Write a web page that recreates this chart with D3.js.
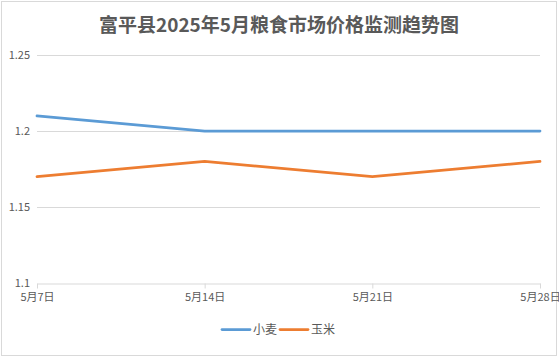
<!DOCTYPE html>
<html><head><meta charset="utf-8">
<script src="https://cdn.jsdelivr.net/npm/d3@7/dist/d3.min.js"></script>
<style>body{margin:0;background:#fff}svg{display:block}</style>
</head><body>
<svg id="c" width="559" height="359"></svg>
<script>
const title = "富平县2025年5月粮食市场价格监测趋势图";
const categories = ["5月7日","5月14日","5月21日","5月28日"];
const wheat = [1.21, 1.20, 1.20, 1.20];
const corn = [1.17, 1.18, 1.17, 1.18];
const seriesNames = ["小麦","玉米"];
const yTicks = [1.1, 1.15, 1.2, 1.25];
const yTickLabels = ["1.1","1.15","1.2","1.25"];

const svg = d3.select("#c");
const font = "'Noto Sans CJK SC','DejaVu Sans',sans-serif";
svg.append("rect").attr("x",1.5).attr("y",1.5).attr("width",555).attr("height",354)
  .attr("fill","#fff").attr("stroke","#d9d9d9");

const x = d3.scalePoint().domain(categories).range([37,540]);
const y = d3.scaleLinear().domain([1.1,1.25]).range([283,55]);

svg.append("text").attr("x",279).attr("y",32).attr("text-anchor","middle")
  .attr("font-family","'Noto Sans CJK SC',serif").attr("font-weight","bold")
  .attr("font-size",19).attr("fill","#595959").text(title);

// gridlines
svg.append("g").selectAll("line").data(yTicks.slice(1)).join("line")
  .attr("x1",37).attr("x2",540).attr("y1",d=>Math.round(y(d))+0.5).attr("y2",d=>Math.round(y(d))+0.5)
  .attr("stroke","#d9d9d9");

// y labels
svg.append("g").selectAll("text").data(yTicks).join("text")
  .attr("x",30).attr("y",d=>y(d)+4).attr("text-anchor","end")
  .attr("font-family",font).attr("font-size",11).attr("fill","#595959")
  .text((d,i)=>yTickLabels[i]);

// x axis
const xa = svg.append("g").attr("transform",`translate(0,${Math.round(y(1.1))+0.5})`)
  .call(d3.axisBottom(x).tickSize(5).tickSizeOuter(0).tickPadding(5));
xa.select(".domain").attr("stroke","#d9d9d9");
xa.selectAll(".tick line").attr("stroke","#d9d9d9");
xa.selectAll(".tick text").attr("font-family",font).attr("font-size",11).attr("fill","#595959");

const line = d3.line().x((d,i)=>x(categories[i])).y(d=>y(d));
const colors = ["#5b9bd5","#ed7d31"];
[wheat, corn].forEach((s,k)=>{
  svg.append("path").attr("d",line(s)).attr("fill","none")
    .attr("stroke",colors[k]).attr("stroke-width",2.75).attr("stroke-linecap","round");
});

// legend
const leg = [{x:222,name:seriesNames[0],c:colors[0]},{x:280,name:seriesNames[1],c:colors[1]}];
leg.forEach(l=>{
  svg.append("line").attr("x1",l.x).attr("x2",l.x+28).attr("y1",329.5).attr("y2",329.5)
    .attr("stroke",l.c).attr("stroke-width",2.75).attr("stroke-linecap","round");
  svg.append("text").attr("x",l.x+31).attr("y",334).attr("font-family",font)
    .attr("font-size",12).attr("fill","#595959").text(l.name);
});
</script>
</body></html>
